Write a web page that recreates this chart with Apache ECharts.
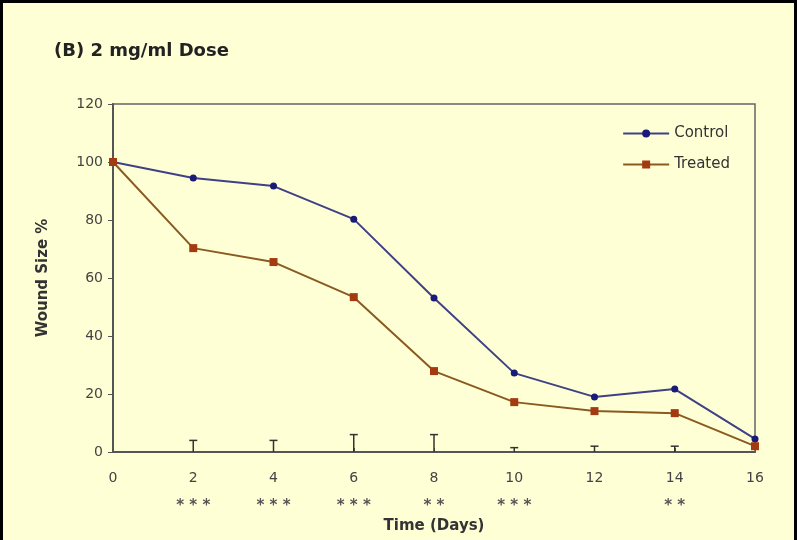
<!DOCTYPE html>
<html><head><meta charset="utf-8">
<script src="https://cdn.jsdelivr.net/npm/echarts@6/dist/echarts.min.js"></script>
<style>
html,body{margin:0;padding:0;background:#fff;}
#c{position:absolute;left:0;top:0;width:797px;height:540px;background:#FFFFD6;box-sizing:border-box;border:3px solid #000;border-bottom:none;}
#chart{width:794px;height:540px;}
</style></head><body>
<div id="c"><div id="chart"></div></div>
<script>
const days = [0, 2, 4, 6, 8, 10, 12, 14, 16];
const control = [100, 94.5, 91.7, 80.3, 53.1, 27.2, 19, 21.7, 4.5];
const treated = [100, 70.3, 65.5, 53.4, 27.9, 17.2, 14.1, 13.4, 2];
const errDays = [2, 4, 6, 8, 10, 12, 14];
const errTop = [4, 4, 6, 6, 1.5, 2, 2];
const stars = {2: '* * *', 4: '* * *', 6: '* * *', 8: '* *', 10: '* * *', 14: '* *'};
const yTicks = [0, 20, 40, 60, 80, 100, 120];

const F = 'DejaVu Sans, Verdana, sans-serif';
const chart = echarts.init(document.getElementById('chart'));
chart.setOption({
  animation: false,
  backgroundColor: 'transparent',
  textStyle: {fontFamily: F},
  title: {text: '(B) 2 mg/ml Dose', left: 46, top: 34,
    textStyle: {fontSize: 18, fontWeight: 'bold', color: '#222', fontFamily: F}},
  legend: {
    orient: 'vertical', right: 62, top: 118, itemGap: 16, itemWidth: 46, itemHeight: 10,
    textStyle: {fontSize: 15, color: '#333', fontFamily: F},
    data: ['Control', 'Treated']
  },
  grid: {left: 110, right: 42, top: 101, bottom: 91, show: true, borderColor: '#666', borderWidth: 1.5, backgroundColor: 'transparent'},
  xAxis: {
    type: 'value', min: 0, max: 16, interval: 2,
    name: 'Time (Days)', nameLocation: 'middle', nameGap: 61,
    nameTextStyle: {fontSize: 15, fontWeight: 'bold', color: '#333', fontFamily: F},
    axisLine: {lineStyle: {color: '#555', width: 2}},
    axisTick: {show: true, inside: true, length: 4, lineStyle: {color: '#555'}},
    splitLine: {show: false},
    axisLabel: {
      margin: 13, color: '#444', fontSize: 14,
      formatter: v => '{a|' + v + '}\n{b|' + (stars[v] || ' ') + '}',
      rich: {a: {fontSize: 14, color: '#444', lineHeight: 26, fontFamily: F},
             b: {fontSize: 15, fontWeight: 'bold', color: '#555', lineHeight: 30, fontFamily: F}}
    }
  },
  yAxis: {
    type: 'value', min: 0, max: 120, interval: 20,
    name: 'Wound Size %', nameLocation: 'middle', nameGap: 62, nameRotate: 90,
    nameTextStyle: {fontSize: 15, fontWeight: 'bold', color: '#333', fontFamily: F},
    axisLine: {show: true, lineStyle: {color: '#555', width: 2}},
    axisTick: {show: true, length: 5, lineStyle: {color: '#555'}},
    splitLine: {show: false},
    axisLabel: {margin: 10, color: '#444', fontSize: 14, fontFamily: F}
  },
  series: [
    {name: 'Control', type: 'line', data: days.map((d, i) => [d, control[i]]),
      symbol: 'circle', symbolSize: 7, color: '#1A1A78',
      lineStyle: {color: '#404085', width: 2}, itemStyle: {color: '#1A1A78'}, z: 3},
    {name: 'Treated', type: 'line', data: days.map((d, i) => [d, treated[i]]),
      symbol: 'rect', symbolSize: 8, color: '#A33A10',
      lineStyle: {color: '#8A5A20', width: 2}, itemStyle: {color: '#A33A10'}, z: 4},
    {name: 'err', type: 'custom', z: 2,
      data: errDays.map((d, i) => [d, errTop[i]]),
      renderItem: (params, api) => {
        const b = api.coord([api.value(0), 0]);
        const t = api.coord([api.value(0), api.value(1)]);
        const st = {stroke: '#333', lineWidth: 1.5};
        return {type: 'group', children: [
          {type: 'line', shape: {x1: b[0], y1: b[1], x2: t[0], y2: t[1]}, style: st},
          {type: 'line', shape: {x1: t[0] - 4, y1: t[1], x2: t[0] + 4, y2: t[1]}, style: st}
        ]};
      }}
  ]
});
</script></body></html>
